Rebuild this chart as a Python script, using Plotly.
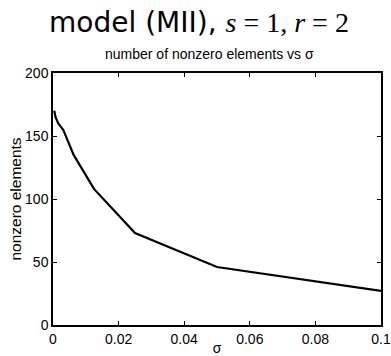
import plotly.graph_objects as go

sigma = [0.00039, 0.00078, 0.0016, 0.0031, 0.0063, 0.0125, 0.025, 0.05, 0.1]
nonzero = [170, 165, 160, 155, 135, 108, 73, 46, 27]

x_ticks = [0, 0.02, 0.04, 0.06, 0.08, 0.1]
x_tick_labels = ["0", "0.02", "0.04", "0.06", "0.08", "0.1"]
y_ticks = [0, 50, 100, 150, 200]
y_tick_labels = ["0", "50", "100", "150", "200"]

SANS = "Liberation Sans, Arial, sans-serif"

fig = go.Figure()
fig.add_trace(go.Scatter(x=sigma, y=nonzero, mode="lines",
                         line=dict(color="black", width=2.2), showlegend=False))

axis_common = dict(showgrid=False, zeroline=False, showline=True, linecolor="black",
                   linewidth=1.5, mirror="allticks", ticks="inside", ticklen=4,
                   tickcolor="black", tickwidth=1, automargin=False,
                   tickfont=dict(family=SANS, size=14, color="black"))

fig.update_layout(
    width=391, height=356,
    margin=dict(l=53, r=10, t=73, b=31),
    paper_bgcolor="white", plot_bgcolor="white",
    title=dict(
        text="model (MII), <span style=\"font-family:Liberation Serif\"><i>s</i> = 1, <i>r</i> = 2</span>",
        x=(199) / 391, xanchor="center", y=1 - 22 / 356, yanchor="middle",
        font=dict(family="DejaVu Sans, sans-serif", size=28, color="black")),
    xaxis=dict(range=[0, 0.1], tickvals=x_ticks, ticktext=x_tick_labels,
               title=dict(text="σ", standoff=4,
                          font=dict(family=SANS, size=14, color="black")),
               **axis_common),
    yaxis=dict(range=[0, 200], tickvals=y_ticks, ticktext=y_tick_labels,
               title=dict(text="nonzero elements", standoff=0,
                          font=dict(family=SANS, size=15.5, color="black")),
               **axis_common),
    annotations=[dict(text="number of nonzero elements vs σ", xref="paper", yref="paper",
                      x=(209 - 53) / 328, y=1, yshift=9, xanchor="center", yanchor="bottom",
                      showarrow=False,
                      font=dict(family=SANS, size=14, color="black"))],
)

fig.write_html("out.html")
